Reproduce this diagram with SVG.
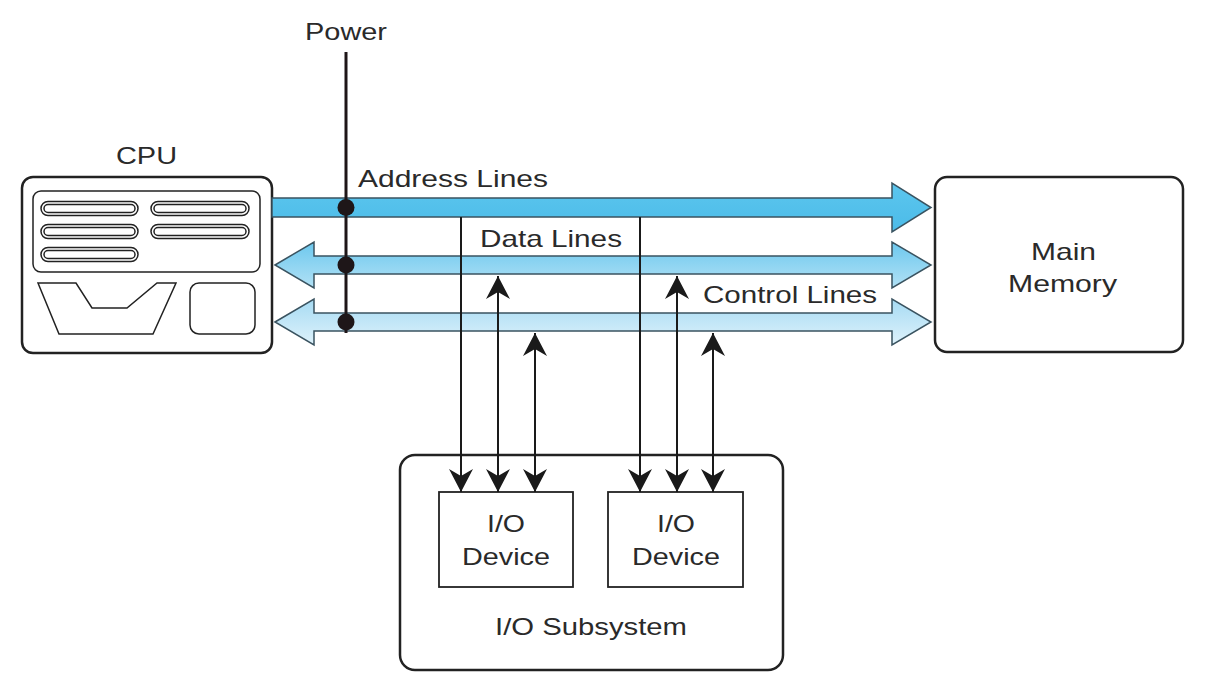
<svg xmlns="http://www.w3.org/2000/svg" width="1212" height="692" viewBox="0 0 1212 692">
<defs>
<style>
.t{font-family:"Liberation Sans",Arial,sans-serif;font-size:24px;fill:#2a2a2a}
.box{fill:#fff;stroke:#222;stroke-width:2.5}
.thin{fill:none;stroke:#222;stroke-width:1.5}
.bus{stroke:#3a5360;stroke-width:1.5}
.vl{stroke:#1a1a1a;stroke-width:2;fill:none}
</style>
<linearGradient id="gA" x1="0" y1="0" x2="0" y2="1"><stop offset="0" stop-color="#5cc6ee"/><stop offset="1" stop-color="#4bbbe8"/></linearGradient>
<linearGradient id="gD" x1="0" y1="0" x2="0" y2="1"><stop offset="0" stop-color="#6cc8ee"/><stop offset="1" stop-color="#b2e1f5"/></linearGradient>
<linearGradient id="gC" x1="0" y1="0" x2="0" y2="1"><stop offset="0" stop-color="#a6dbf3"/><stop offset="1" stop-color="#def2fb"/></linearGradient>
<marker id="ah" viewBox="-24 -13 26 26" refX="0" refY="0" markerWidth="26" markerHeight="26" markerUnits="userSpaceOnUse" orient="auto-start-reverse">
<path d="M0,0 L-23,-12 L-16,0 L-23,12 Z" fill="#1a1a1a"/>
</marker>
</defs>
<rect width="1212" height="692" fill="#fff"/>

<g id="cpu">
<text class="t" x="146.5" y="164" text-anchor="middle" textLength="61" lengthAdjust="spacingAndGlyphs">CPU</text>
<rect class="box" x="22" y="177" width="250" height="176" rx="11"/>
<rect class="thin" x="33" y="191" width="227" height="81" rx="8"/>
<g class="thin">
<rect x="41" y="201.5" width="97" height="14" rx="7"/><rect x="44" y="204.5" width="91" height="8" rx="4"/>
<rect x="41" y="224.5" width="97" height="14" rx="7"/><rect x="44" y="227.5" width="91" height="8" rx="4"/>
<rect x="41" y="247.5" width="97" height="14" rx="7"/><rect x="44" y="250.5" width="91" height="8" rx="4"/>
<rect x="151" y="201.5" width="98" height="14" rx="7"/><rect x="154" y="204.5" width="92" height="8" rx="4"/>
<rect x="151" y="224.5" width="98" height="14" rx="7"/><rect x="154" y="227.5" width="92" height="8" rx="4"/>
</g>
<polygon class="thin" points="38,283 76,283 92,308 127,308 157,283 176,283 153,334 59,334"/>
<rect class="thin" x="190" y="283" width="65" height="51" rx="9"/>
</g>

<g id="main-memory">
<rect class="box" x="935" y="177" width="248" height="175" rx="12"/>
<text class="t" x="1031" y="260" textLength="65" lengthAdjust="spacingAndGlyphs">Main</text>
<text class="t" x="1008" y="292" textLength="109" lengthAdjust="spacingAndGlyphs">Memory</text>
</g>

<g id="io-subsystem">
<rect class="box" x="400" y="455" width="383" height="215" rx="15"/>
<text class="t" x="495" y="635" textLength="192" lengthAdjust="spacingAndGlyphs">I/O Subsystem</text>
</g>
<g id="io-device-1">
<rect x="439" y="492" width="134" height="95" fill="#fff" stroke="#222" stroke-width="1.8"/>
<text class="t" x="487" y="532" textLength="38" lengthAdjust="spacingAndGlyphs">I/O</text>
<text class="t" x="462" y="565" textLength="88" lengthAdjust="spacingAndGlyphs">Device</text>
</g>
<g id="io-device-2">
<rect x="608" y="492" width="135" height="95" fill="#fff" stroke="#222" stroke-width="1.8"/>
<text class="t" x="657" y="532" textLength="38" lengthAdjust="spacingAndGlyphs">I/O</text>
<text class="t" x="632" y="565" textLength="88" lengthAdjust="spacingAndGlyphs">Device</text>
</g>

<g id="connectors">
<g id="address-bus">
<polygon class="bus" fill="url(#gA)" points="272,198 892,198 892,183 931,207.5 892,232 892,217 272,217"/>
<text class="t" x="358" y="187" textLength="190" lengthAdjust="spacingAndGlyphs">Address Lines</text>
</g>
<g id="data-bus">
<polygon class="bus" fill="url(#gD)" points="275,265 314,242 314,256 892,256 892,242 931,265 892,288 892,274 314,274 314,288"/>
<text class="t" x="480" y="247" textLength="142" lengthAdjust="spacingAndGlyphs">Data Lines</text>
</g>
<g id="control-bus">
<polygon class="bus" fill="url(#gC)" points="275,322 314,299 314,313 892,313 892,299 931,322 892,345 892,331 314,331 314,345"/>
<text class="t" x="703" y="303" textLength="174" lengthAdjust="spacingAndGlyphs">Control Lines</text>
</g>
<g id="power">
<line x1="346" y1="52" x2="346" y2="333" stroke="#1e1618" stroke-width="3"/>
<circle cx="346" cy="207.5" r="8.5" fill="#1e1618"/>
<circle cx="346" cy="265" r="8.5" fill="#1e1618"/>
<circle cx="346" cy="322" r="8.5" fill="#1e1618"/>
<text class="t" x="346" y="40" text-anchor="middle" textLength="82" lengthAdjust="spacingAndGlyphs">Power</text>
</g>
<g id="io-links">
<line class="vl" x1="461" y1="217" x2="461" y2="492" marker-end="url(#ah)"/>
<line class="vl" x1="498" y1="276" x2="498" y2="492" marker-start="url(#ah)" marker-end="url(#ah)"/>
<line class="vl" x1="535" y1="333" x2="535" y2="492" marker-start="url(#ah)" marker-end="url(#ah)"/>
<line class="vl" x1="640" y1="217" x2="640" y2="492" marker-end="url(#ah)"/>
<line class="vl" x1="677" y1="276" x2="677" y2="492" marker-start="url(#ah)" marker-end="url(#ah)"/>
<line class="vl" x1="713" y1="333" x2="713" y2="492" marker-start="url(#ah)" marker-end="url(#ah)"/>
</g>
</g>
</svg>
